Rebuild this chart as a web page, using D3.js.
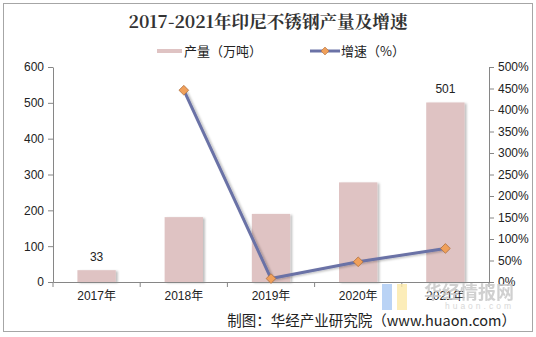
<!DOCTYPE html>
<html><head><meta charset="utf-8">
<script src="https://cdn.jsdelivr.net/npm/d3@7"></script>
<style>body{margin:0;background:#fff}svg{display:block}</style>
</head><body><svg id="c" width="536" height="337"></svg>
<script>
const categories = ["2017年","2018年","2019年","2020年","2021年"];
const production = [33, 181, 190, 278, 501];
const growth = [null, 446, 8, 47, 78];
const leftTicks = [0,100,200,300,400,500,600];
const rightTicks = [0,50,100,150,200,250,300,350,400,450,500];
const barLabels = {0:"33", 4:"501"};

const svg = d3.select("#c");
const font = "Arial, 'Liberation Sans', 'Noto Sans CJK SC', sans-serif";
const defs = svg.append("defs");
const f = defs.append("filter").attr("id","sh").attr("x","-20%").attr("y","-20%").attr("width","150%").attr("height","150%");
f.append("feDropShadow").attr("dx",2).attr("dy",1).attr("stdDeviation",1.2).attr("flood-color","#000").attr("flood-opacity",0.25);

svg.append("rect").attr("x",3.5).attr("y",3.5).attr("width",529).attr("height",328)
  .attr("fill","#fff").attr("stroke","#a6a6a6").attr("stroke-width",1);

const L = 53, R = 489, T = 67, B = 282;
const x = d3.scaleBand().domain(categories).range([L,R]).paddingInner(0.56).paddingOuter(0.28);
const yL = d3.scaleLinear().domain([0,600]).range([B,T]);
const yR = d3.scaleLinear().domain([0,500]).range([B,T]);

// bars
svg.append("g").selectAll("rect").data(production).join("rect")
  .attr("x",(d,i)=>x(categories[i])).attr("width",x.bandwidth())
  .attr("y",d=>yL(d)).attr("height",d=>B-yL(d))
  .attr("fill","#dfc3c3").attr("filter","url(#sh)");

// axes
const axL = d3.axisLeft(yL).tickValues(leftTicks).tickSize(5).tickSizeOuter(0);
const gL = svg.append("g").attr("transform",`translate(${L},0)`).call(axL);
const axR = d3.axisRight(yR).tickValues(rightTicks).tickSize(5).tickSizeOuter(0).tickFormat(d=>d+"%");
const gR = svg.append("g").attr("transform",`translate(${R},0)`).call(axR);
const axB = d3.axisBottom(x).tickSize(0).tickPadding(9);
const gB = svg.append("g").attr("transform",`translate(0,${B})`).call(axB);
// category separators
svg.append("g").selectAll("line").data(d3.range(categories.length+1)).join("line")
  .attr("x1",i=>L+(R-L)/categories.length*i).attr("x2",i=>L+(R-L)/categories.length*i)
  .attr("y1",B).attr("y2",B+5).attr("stroke","#868686");
[gL,gR,gB].forEach(g=>{
  g.selectAll("path").attr("stroke","#868686");
  g.selectAll("line").attr("stroke","#868686");
  g.selectAll("text").attr("fill","#222").style("font-family",font).style("font-size","12px");
});
gL.selectAll("text").attr("dx",-1);
gR.selectAll("text").attr("dx",1);

// bar labels
svg.append("g").selectAll("text").data(Object.keys(barLabels)).join("text")
  .attr("x",i=>x(categories[i])+x.bandwidth()/2).attr("y",i=>yL(production[i])-9)
  .attr("text-anchor","middle").style("font-family",font).style("font-size","12px").attr("fill","#222")
  .text(i=>barLabels[i]);

// line
const pts = growth.map((g,i)=>({g,c:categories[i]})).filter(d=>d.g!==null);
const line = d3.line().x(d=>x(d.c)+x.bandwidth()/2).y(d=>yR(d.g));
svg.append("path").datum(pts).attr("d",line).attr("fill","none")
  .attr("stroke","#6b72a6").attr("stroke-width",3).attr("filter","url(#sh)");
svg.append("g").selectAll("path").data(pts).join("path")
  .attr("d",d3.symbol(d3.symbolDiamond2,60))
  .attr("transform",d=>`translate(${x(d.c)+x.bandwidth()/2},${yR(d.g)})`)
  .attr("fill","#f0a05a").attr("stroke","#b07040").attr("stroke-width",0.8);

// title
svg.append("text").attr("x",268).attr("y",28).attr("text-anchor","middle")
  .style("font-family","'Noto Serif CJK SC','Liberation Serif','Noto Sans CJK SC',serif")
  .style("font-weight","bold").style("font-size","17.6px").attr("fill","#333")
  .text("2017-2021年印尼不锈钢产量及增速");

// legend
const lg = svg.append("g").style("font-family","'Noto Sans CJK SC',sans-serif").style("font-size","13px");
lg.append("line").attr("x1",157).attr("x2",182).attr("y1",51).attr("y2",51).attr("stroke","#dfc3c3").attr("stroke-width",4);
lg.append("text").attr("x",184).attr("y",56).attr("fill","#222").text("产量（万吨）");
lg.append("line").attr("x1",310).attr("x2",340).attr("y1",51).attr("y2",51).attr("stroke","#6b72a6").attr("stroke-width",3);
lg.append("path").attr("d",d3.symbol(d3.symbolDiamond2,40)).attr("transform","translate(325,51)").attr("fill","#f0a05a").attr("stroke","#b07040").attr("stroke-width",0.6);
lg.append("text").attr("x",341).attr("y",56).attr("fill","#222").text("增速（%）");

// watermark
const wm = svg.append("g");
wm.append("rect").attr("x",382).attr("y",284).attr("width",10).attr("height",26).attr("fill","#a9c8f2").attr("opacity",0.8);
wm.append("rect").attr("x",397).attr("y",284).attr("width",10).attr("height",26).attr("fill","#fbe9a8").attr("opacity",0.8);
wm.append("text").attr("x",514).attr("y",299).attr("text-anchor","end")
  .style("font-family","'Noto Sans CJK SC',sans-serif").style("font-weight","bold").style("font-size","18px")
  .attr("fill","#c8c8c8").attr("opacity",0.85).text("华经情报网");
wm.append("text").attr("x",514).attr("y",309).attr("text-anchor","end")
  .style("font-family",font).style("font-size","8.5px").style("letter-spacing","3px")
  .attr("fill","#d8d8d8").text("huaon.com");

// source
svg.append("text").attr("x",516).attr("y",326).attr("text-anchor","end")
  .style("font-family","'Noto Sans CJK SC',sans-serif").style("font-size","14.5px").attr("fill","#222")
  .text("制图：华经产业研究院（www.huaon.com）");
</script></body></html>
